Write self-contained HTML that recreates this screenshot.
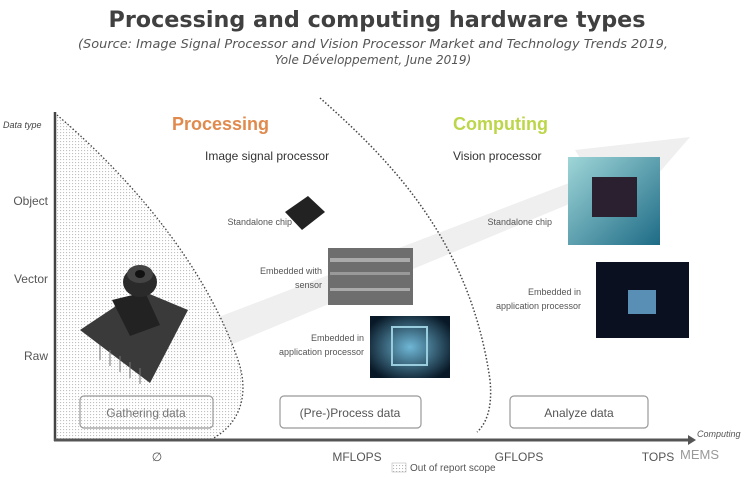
<!DOCTYPE html>
<html><head><meta charset="utf-8"><style>
html,body{margin:0;padding:0;background:#fff;}
svg{display:block;}
</style></head><body>
<svg width="754" height="480" viewBox="0 0 754 480" xmlns="http://www.w3.org/2000/svg" font-family="Liberation Sans, sans-serif">
<defs>
<pattern id="dots" width="3" height="3" patternUnits="userSpaceOnUse"><rect width="3" height="3" fill="#fff"/><rect width="1.1" height="1.1" fill="#b5b5b5"/></pattern>
<radialGradient id="blue" cx="50%" cy="50%" r="60%"><stop offset="0" stop-color="#6fb7d6"/><stop offset="1" stop-color="#081826"/></radialGradient>
<linearGradient id="teal" x1="0" y1="0" x2="1" y2="1"><stop offset="0" stop-color="#9fd6d8"/><stop offset="1" stop-color="#1e6b86"/></linearGradient>
</defs>
<text x="377" y="27" text-anchor="middle" font-family="DejaVu Sans, sans-serif" font-weight="bold" font-size="22" fill="#404040" textLength="537" lengthAdjust="spacingAndGlyphs">Processing and computing hardware types</text>
<text x="373" y="48" text-anchor="middle" font-family="DejaVu Sans, sans-serif" font-style="italic" font-size="12" fill="#555" textLength="590" lengthAdjust="spacingAndGlyphs">(Source: Image Signal Processor and Vision Processor Market and Technology Trends 2019,</text>
<text x="373" y="64" text-anchor="middle" font-family="DejaVu Sans, sans-serif" font-style="italic" font-size="12" fill="#555">Yole Développement, June 2019)</text>

<!-- gray arrow band -->
<polygon points="80,370 590,175 575,150 690,137 640,195 615,185 110,395" fill="#efefef"/>

<!-- dotted region -->
<path d="M57,115 C110,160 200,250 238,360 C250,395 240,425 210,440 L57,440 Z" fill="url(#dots)" opacity="0.85"/>
<path d="M57,115 C110,160 200,250 238,360 C250,395 240,425 210,440" fill="none" stroke="#444" stroke-width="1.3" stroke-dasharray="1.5,2"/>
<path d="M320,98 C390,160 470,240 490,380 C493,410 485,425 477,432" fill="none" stroke="#444" stroke-width="1.5" stroke-dasharray="1.5,2"/>

<!-- axes -->
<line x1="55" y1="112" x2="55" y2="441" stroke="#444" stroke-width="2.5"/>
<line x1="54" y1="440" x2="688" y2="440" stroke="#555" stroke-width="3"/>
<polygon points="688,435 696,440 688,445" fill="#555"/>

<text x="3" y="128" font-style="italic" font-size="9" fill="#444">Data type</text>
<text x="48" y="205" text-anchor="end" font-size="12" fill="#555">Object</text>
<text x="48" y="283" text-anchor="end" font-size="12" fill="#555">Vector</text>
<text x="48" y="360" text-anchor="end" font-size="12" fill="#555">Raw</text>
<text x="157" y="461" text-anchor="middle" font-size="12" fill="#555">∅</text>
<text x="357" y="461" text-anchor="middle" font-size="12" fill="#555">MFLOPS</text>
<text x="519" y="461" text-anchor="middle" font-size="12" fill="#555">GFLOPS</text>
<text x="658" y="461" text-anchor="middle" font-size="12" fill="#555">TOPS</text>
<text x="697" y="437" font-style="italic" font-size="9" fill="#555">Computing</text>
<text x="680" y="459" font-size="13" fill="#999">MEMS</text>
<rect x="392" y="463" width="14" height="9" fill="url(#dots)" stroke="#aaa" stroke-width="0.5"/>
<text x="410" y="471" font-size="10" fill="#555">Out of report scope</text>

<text x="172" y="130" font-weight="bold" font-size="18" fill="#e08a4e">Processing</text>
<text x="453" y="130" font-weight="bold" font-size="18" fill="#bcd64a">Computing</text>
<text x="205" y="160" font-size="12" fill="#333">Image signal processor</text>
<text x="453" y="160" font-size="12" fill="#333">Vision processor</text>

<!-- camera -->
<polygon points="80,330 140,290 188,310 150,383" fill="#3a3a3a"/>
<g stroke="#777" stroke-width="1"><line x1="100" y1="345" x2="100" y2="360"/><line x1="110" y1="350" x2="110" y2="366"/><line x1="120" y1="356" x2="120" y2="372"/><line x1="130" y1="362" x2="130" y2="378"/><line x1="140" y1="368" x2="140" y2="384"/></g>
<polygon points="112,300 145,292 160,325 130,336" fill="#222"/>
<ellipse cx="140" cy="282" rx="17" ry="15" fill="#2a2a2a"/>
<ellipse cx="140" cy="274" rx="13" ry="9" fill="#444"/>
<ellipse cx="140" cy="274" rx="5" ry="4" fill="#111"/>

<!-- ISP images -->
<text x="292" y="225" text-anchor="end" font-size="9" fill="#555">Standalone chip</text>
<polygon points="285,212 308,196 325,212 302,230" fill="#222"/>
<text x="322" y="274" text-anchor="end" font-size="9" fill="#555">Embedded with</text>
<text x="322" y="288" text-anchor="end" font-size="9" fill="#555">sensor</text>
<rect x="328" y="248" width="85" height="57" fill="#6e6e6e"/>
<rect x="330" y="258" width="80" height="4" fill="#aaa"/><rect x="330" y="272" width="80" height="3" fill="#999"/><rect x="330" y="288" width="80" height="3" fill="#aaa"/>
<text x="364" y="341" text-anchor="end" font-size="9" fill="#555">Embedded in</text>
<text x="364" y="355" text-anchor="end" font-size="9" fill="#555">application processor</text>
<rect x="370" y="316" width="80" height="62" fill="url(#blue)"/>
<rect x="392" y="327" width="35" height="38" fill="none" stroke="#9cd" stroke-width="2"/>

<!-- vision images -->
<text x="552" y="225" text-anchor="end" font-size="9" fill="#555">Standalone chip</text>
<rect x="568" y="157" width="92" height="88" fill="url(#teal)"/>
<rect x="592" y="177" width="45" height="40" fill="#2a2030"/>
<text x="581" y="295" text-anchor="end" font-size="9" fill="#555">Embedded in</text>
<text x="581" y="309" text-anchor="end" font-size="9" fill="#555">application processor</text>
<rect x="596" y="262" width="93" height="76" fill="#0a1020"/>
<rect x="628" y="290" width="28" height="24" fill="#5a8fb5"/>

<!-- boxes -->
<g fill="none" stroke="#999" stroke-width="1.2">
<rect x="80" y="396" width="133" height="32" rx="4"/>
<rect x="280" y="396" width="141" height="32" rx="4"/>
<rect x="510" y="396" width="138" height="32" rx="4"/>
</g>
<text x="146" y="417" text-anchor="middle" font-size="12" fill="#777">Gathering data</text>
<text x="350" y="417" text-anchor="middle" font-size="12" fill="#555">(Pre-)Process data</text>
<text x="579" y="417" text-anchor="middle" font-size="12" fill="#555">Analyze data</text>
</svg>
</body></html>
